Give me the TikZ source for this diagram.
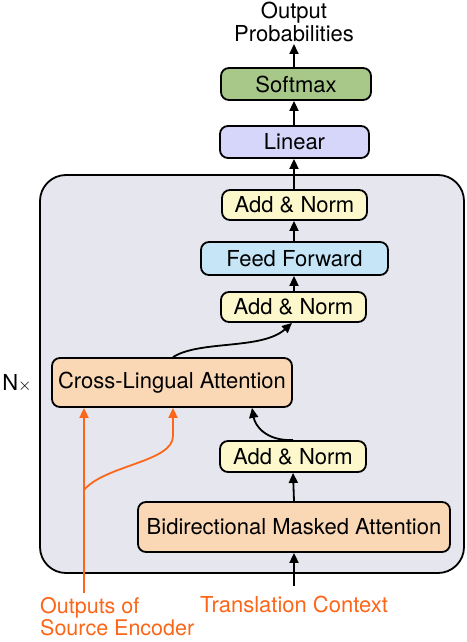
\documentclass[tikz,border=0pt]{standalone}
\usepackage{fontspec}
\setmainfont{TeX Gyre Heros}
\usetikzlibrary{arrows.meta}
\definecolor{bigfill}{RGB}{230,230,238}
\definecolor{smfill}{RGB}{168,200,138}
\definecolor{linfill}{RGB}{214,214,250}
\definecolor{anfill}{RGB}{252,248,204}
\definecolor{fffill}{RGB}{198,230,248}
\definecolor{attfill}{RGB}{250,216,182}
\definecolor{orng}{RGB}{252,102,24}
\tikzset{
  blk/.style={draw=black, line width=1.8pt, rounded corners=8pt, inner sep=0pt, font=\fontsize{22}{23}\selectfont},
  lbl/.style={inner sep=0pt, font=\fontsize{22}{22.5}\selectfont},
  arr/.style={line width=1.8pt, -{Triangle[length=10pt,width=9pt]}},
  oarr/.style={draw=orng, line width=1.8pt, -{Triangle[length=10pt,width=9pt]}},
}
\begin{document}
\begin{tikzpicture}[x=1pt,y=-1pt]
\useasboundingbox (0,0) rectangle (466,642);
\draw[line width=1.8pt, fill=bigfill, rounded corners=26pt] (40,175) rectangle (464,573);
\node[blk, fill=smfill, minimum width=150pt, minimum height=32pt] (sm) at (296,84) {Softmax};
\node[blk, fill=linfill, minimum width=149pt, minimum height=32pt] (lin) at (294.5,142) {Linear};
\node[blk, fill=anfill, minimum width=145pt, minimum height=30pt] (an3) at (294.5,205) {Add \& Norm};
\node[blk, fill=fffill, minimum width=187pt, minimum height=33pt] (ff) at (294.5,258.5) {Feed Forward};
\node[blk, fill=anfill, minimum width=145pt, minimum height=30pt] (an2) at (293.5,307) {Add \& Norm};
\node[blk, fill=attfill, minimum width=240pt, minimum height=49pt] (cla) at (172,382.5) {Cross-Lingual Attention};
\node[blk, fill=anfill, minimum width=146pt, minimum height=31pt] (an1) at (293,456.5) {Add \& Norm};
\node[blk, fill=attfill, minimum width=312pt, minimum height=50pt] (bma) at (294,527) {Bidirectional Masked Attention};
\node[lbl, align=center] (out) at (294,22) {Output\\Probabilities};
\node[lbl, text=orng] (tc) at (294,604) {Translation Context};
\node[lbl, text=orng, align=left, anchor=south west, font=\fontsize{21.5}{21.5}\selectfont] (se) at (40,636) {Outputs of\\Source Encoder};
\node[lbl] (nx) at (17,383) {N{\fontsize{19}{19}\selectfont$\times$}};
\coordinate (tcs) at (294,586);
\coordinate (ses) at (84,593);
\coordinate (br) at (84,490);
\coordinate (bk) at (173,436);
\draw[arr] (tcs) -- (bma.south);
\draw[arr] (bma.north) -- (an1.south);
\draw[arr] (an1.north -| 293,0) .. controls (265,441) and (255,425) .. (cla.south -| 252,0);
\draw[arr] (cla.north -| 173,0) .. controls (200,340) and (262,350) .. (an2.south -| 292,0);
\draw[arr] (an2.north -| 294,0) -- (ff.south -| 294,0);
\draw[arr] (ff.north -| 294,0) -- (an3.south -| 294,0);
\draw[arr] (an3.north -| 294,0) -- (lin.south -| 294,0);
\draw[arr] (lin.north -| 294,0) -- (sm.south -| 294,0);
\draw[arr] (sm.north -| 294,0) -- (294,44);
\draw[oarr] (ses) -- (cla.south -| ses);
\draw[oarr] (br) .. controls (105,465) and (173,462) .. (bk) -- (cla.south -| bk);
\end{tikzpicture}
\end{document}
